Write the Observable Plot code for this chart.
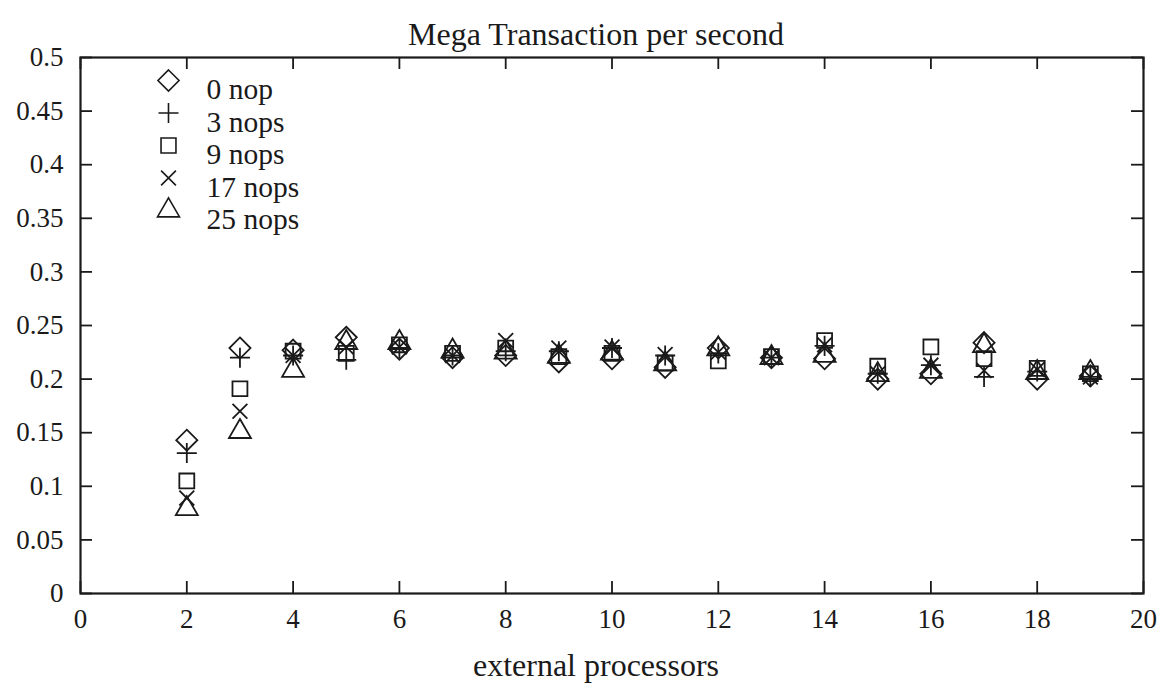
<!DOCTYPE html>
<html>
<head>
<meta charset="utf-8">
<script src="https://cdn.jsdelivr.net/npm/d3@7"></script>
<script src="https://cdn.jsdelivr.net/npm/@observablehq/plot@0.6"></script>
<style>
  html, body { margin: 0; padding: 0; background: #fff; }
  #chart svg { display: block; }
</style>
</head>
<body>
<div id="chart"></div>
<script>
// ---- data ----
const processors = [2, 3, 4, 5, 6, 7, 8, 9, 10, 11, 12, 13, 14, 15, 16, 17, 18, 19];
const nop0  = [0.143, 0.229, 0.227, 0.239, 0.228, 0.220, 0.222, 0.216, 0.219, 0.211, 0.229, 0.220, 0.219, 0.200, 0.205, 0.234, 0.200, 0.203];
const nops3 = [0.131, 0.220, 0.222, 0.218, 0.229, 0.222, 0.226, 0.226, 0.229, 0.222, 0.224, 0.220, 0.231, 0.205, 0.213, 0.202, 0.207, 0.202];
const nops9 = [0.105, 0.191, 0.226, 0.224, 0.232, 0.224, 0.229, 0.221, 0.224, 0.215, 0.217, 0.221, 0.236, 0.212, 0.230, 0.219, 0.210, 0.205];
const nops17 = [0.089, 0.170, 0.222, 0.230, 0.230, 0.222, 0.236, 0.229, 0.230, 0.223, 0.225, 0.220, 0.232, 0.205, 0.213, 0.208, 0.209, 0.202];
const nops25 = [0.079, 0.151, 0.208, 0.234, 0.234, 0.226, 0.225, 0.221, 0.224, 0.214, 0.228, 0.220, 0.222, 0.204, 0.207, 0.231, 0.206, 0.206];

const seriesNames = ["0 nop", "3 nops", "9 nops", "17 nops", "25 nops"];
const seriesValues = [nop0, nops3, nops9, nops17, nops25];
const seriesSymbols = ["diamond2", "plus", "square2", "times", "triangle2"];
const seriesRadius = [9.5, 6.5, 9.5, 6.8, 10.5];

const xTicks = [0, 2, 4, 6, 8, 10, 12, 14, 16, 18, 20];
const yTicks = [0, 0.05, 0.1, 0.15, 0.2, 0.25, 0.3, 0.35, 0.4, 0.45, 0.5];

const titleText = "Mega Transaction per second";
const xLabelText = "external processors";

// ---- layout ----
const W = 1167, H = 695;
const mL = 80, mR = 24, mT = 57, mB = 102;
const frameW = W - mL - mR, frameH = H - mT - mB;
const tickLen = 12;
const ink = "#1a1a1a";

const marks = [];

// inward ticks on all four sides
marks.push(Plot.ruleX(xTicks, {x: d => d, stroke: ink, strokeWidth: 1.8, insetTop: frameH - tickLen}));
marks.push(Plot.ruleX(xTicks, {x: d => d, stroke: ink, strokeWidth: 1.8, insetBottom: frameH - tickLen}));
marks.push(Plot.ruleY(yTicks, {y: d => d, stroke: ink, strokeWidth: 1.8, insetRight: frameW - tickLen}));
marks.push(Plot.ruleY(yTicks, {y: d => d, stroke: ink, strokeWidth: 1.8, insetLeft: frameW - tickLen}));

marks.push(Plot.frame({stroke: ink, strokeWidth: 2.2}));

// axes labels
marks.push(Plot.axisX({ticks: xTicks, tickSize: 0, tickPadding: 15, tickFormat: d => String(d), fill: ink, fontSize: 27, label: null}));
marks.push(Plot.axisY({ticks: yTicks, tickSize: 0, tickPadding: 17, tickFormat: d => String(d), fill: ink, fontSize: 27, label: null}));

// data points
seriesValues.forEach((vals, i) => {
  const rows = processors.map((p, j) => ({p, v: vals[j]}));
  marks.push(Plot.dot(rows, {
    x: "p", y: "v",
    symbol: () => seriesSymbols[i],
    r: seriesRadius[i],
    stroke: ink, strokeWidth: 1.8, fill: "none"
  }));
});

// legend (inside frame, top-left)
seriesNames.forEach((name, i) => {
  marks.push(Plot.dot([name], {
    frameAnchor: "top-left", dx: 88, dy: 23 + i * 32.5,
    symbol: () => seriesSymbols[i], r: seriesRadius[i],
    stroke: ink, strokeWidth: 1.6, fill: "none"
  }));
  marks.push(Plot.text([name], {
    text: d => d, frameAnchor: "top-left", dx: 126, dy: 21 + i * 32.5,
    textAnchor: "start", fill: ink, fontSize: 29.5
  }));
});

// title and x label
marks.push(Plot.text([titleText], {text: d => d, frameAnchor: "top", dx: -16, dy: -35, fontSize: 32, fill: ink}));
marks.push(Plot.text([xLabelText], {text: d => d, frameAnchor: "bottom", dx: -16, dy: 82, fontSize: 32, fill: ink}));

const chart = Plot.plot({
  width: W, height: H,
  marginLeft: mL, marginRight: mR, marginTop: mT, marginBottom: mB,
  x: {domain: [0, 20], axis: null},
  y: {domain: [0, 0.5], axis: null},
  style: {fontFamily: "'Liberation Serif', 'DejaVu Serif', serif", background: "#fff", color: ink},
  marks
});
document.getElementById("chart").appendChild(chart);
</script>
</body>
</html>
